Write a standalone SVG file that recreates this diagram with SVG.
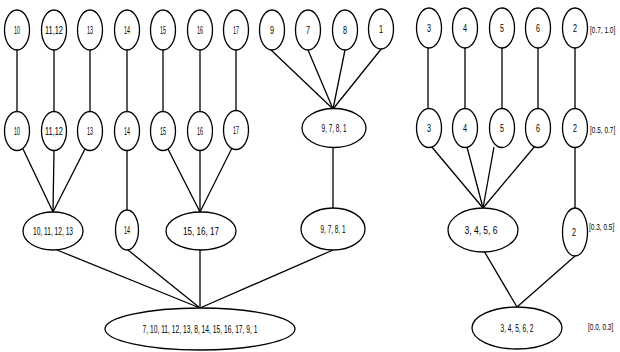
<svg xmlns="http://www.w3.org/2000/svg" width="620" height="352" viewBox="0 0 620 352">
<style>
.n ellipse{fill:#fff;stroke:#000;stroke-width:1.3}
#edges line{stroke:#000;stroke-width:1.3}
text{font-family:"Liberation Sans",Arial,sans-serif;font-size:10px;fill:#000;text-anchor:middle}
.lab{text-anchor:start;font-size:9px}
</style>
<rect width="620" height="352" fill="#fff"/>
<g id="edges">
<line x1="17" y1="50" x2="17" y2="112"/>
<line x1="54" y1="50" x2="54" y2="112"/>
<line x1="90" y1="50" x2="90" y2="112"/>
<line x1="127" y1="50" x2="127" y2="112"/>
<line x1="163" y1="50" x2="163" y2="112"/>
<line x1="200" y1="50" x2="200" y2="112"/>
<line x1="236" y1="50" x2="236" y2="112"/>
<line x1="270" y1="49" x2="333" y2="109"/>
<line x1="308" y1="50" x2="333" y2="109"/>
<line x1="345" y1="50" x2="333" y2="109"/>
<line x1="382" y1="48" x2="333" y2="109"/>
<line x1="428" y1="48" x2="428" y2="109"/>
<line x1="465" y1="48" x2="465" y2="109"/>
<line x1="502" y1="48" x2="502" y2="109"/>
<line x1="538" y1="48" x2="538" y2="109"/>
<line x1="575" y1="48" x2="575" y2="109"/>
<line x1="23" y1="149" x2="53" y2="212"/>
<line x1="54" y1="150" x2="53" y2="212"/>
<line x1="85" y1="149" x2="53" y2="212"/>
<line x1="127" y1="150" x2="127" y2="210"/>
<line x1="168" y1="149" x2="200" y2="212"/>
<line x1="200" y1="150" x2="200" y2="212"/>
<line x1="232" y1="148" x2="200" y2="212"/>
<line x1="333" y1="147" x2="333" y2="209"/>
<line x1="431" y1="146" x2="483" y2="208"/>
<line x1="467" y1="147" x2="483" y2="208"/>
<line x1="494" y1="147" x2="483" y2="208"/>
<line x1="535" y1="146" x2="483" y2="208"/>
<line x1="575" y1="147" x2="575" y2="208"/>
<line x1="57" y1="250" x2="200" y2="308"/>
<line x1="128" y1="250" x2="200" y2="308"/>
<line x1="200" y1="250" x2="200" y2="308"/>
<line x1="333" y1="250" x2="200" y2="308"/>
<line x1="484" y1="251" x2="517" y2="307"/>
<line x1="575" y1="256" x2="517" y2="307"/>
</g>
<g id="t10" class="n"><ellipse cx="17" cy="30" rx="12.5" ry="20"/><text x="17" y="33.5" textLength="6" lengthAdjust="spacingAndGlyphs">10</text></g>
<g id="t1112" class="n"><ellipse cx="54" cy="30" rx="12.5" ry="20"/><text x="54" y="33.5" textLength="18" lengthAdjust="spacingAndGlyphs">11,12</text></g>
<g id="t13" class="n"><ellipse cx="90" cy="30" rx="12.5" ry="20"/><text x="90" y="33.5" textLength="6" lengthAdjust="spacingAndGlyphs">13</text></g>
<g id="t14" class="n"><ellipse cx="127" cy="30" rx="12.5" ry="20"/><text x="127" y="33.5" textLength="6" lengthAdjust="spacingAndGlyphs">14</text></g>
<g id="t15" class="n"><ellipse cx="163" cy="30" rx="12.5" ry="20"/><text x="163" y="33.5" textLength="6" lengthAdjust="spacingAndGlyphs">15</text></g>
<g id="t16" class="n"><ellipse cx="200" cy="30" rx="12.5" ry="20"/><text x="200" y="33.5" textLength="6" lengthAdjust="spacingAndGlyphs">16</text></g>
<g id="t17" class="n"><ellipse cx="236" cy="30" rx="12.5" ry="20"/><text x="236" y="33.5" textLength="6" lengthAdjust="spacingAndGlyphs">17</text></g>
<g id="t9" class="n"><ellipse cx="272" cy="30" rx="12.5" ry="20"/><text x="272" y="33.5" textLength="4" lengthAdjust="spacingAndGlyphs">9</text></g>
<g id="t7" class="n"><ellipse cx="308" cy="30" rx="12.5" ry="20"/><text x="308" y="33.5" textLength="4" lengthAdjust="spacingAndGlyphs">7</text></g>
<g id="t8" class="n"><ellipse cx="345" cy="30" rx="12.5" ry="20"/><text x="345" y="33.5" textLength="4" lengthAdjust="spacingAndGlyphs">8</text></g>
<g id="t1" class="n"><ellipse cx="381" cy="29" rx="12.5" ry="20"/><text x="381" y="32.5" textLength="4" lengthAdjust="spacingAndGlyphs">1</text></g>
<g id="m10" class="n"><ellipse cx="17" cy="131" rx="12.5" ry="19.5"/><text x="17" y="134.5" textLength="6" lengthAdjust="spacingAndGlyphs">10</text></g>
<g id="m1112" class="n"><ellipse cx="54" cy="131" rx="12.5" ry="19.5"/><text x="54" y="134.5" textLength="18" lengthAdjust="spacingAndGlyphs">11,12</text></g>
<g id="m13" class="n"><ellipse cx="90" cy="131" rx="12.5" ry="19.5"/><text x="90" y="134.5" textLength="6" lengthAdjust="spacingAndGlyphs">13</text></g>
<g id="m14" class="n"><ellipse cx="127" cy="131" rx="12.5" ry="19.5"/><text x="127" y="134.5" textLength="6" lengthAdjust="spacingAndGlyphs">14</text></g>
<g id="m15" class="n"><ellipse cx="163" cy="131" rx="12.5" ry="19.5"/><text x="163" y="134.5" textLength="6" lengthAdjust="spacingAndGlyphs">15</text></g>
<g id="m16" class="n"><ellipse cx="200" cy="131" rx="12.5" ry="19.5"/><text x="200" y="134.5" textLength="6" lengthAdjust="spacingAndGlyphs">16</text></g>
<g id="m17" class="n"><ellipse cx="236" cy="130" rx="12.5" ry="19.5"/><text x="236" y="133.5" textLength="6" lengthAdjust="spacingAndGlyphs">17</text></g>
<g id="m9781" class="n"><ellipse cx="334" cy="128" rx="32" ry="19.5"/><text x="334" y="131.5" textLength="25" lengthAdjust="spacingAndGlyphs">9, 7, 8, 1</text></g>
<g id="b10111213" class="n"><ellipse cx="53" cy="231" rx="30" ry="19"/><text x="53" y="234.5" textLength="40" lengthAdjust="spacingAndGlyphs">10, 11, 12, 13</text></g>
<g id="b14" class="n"><ellipse cx="127" cy="230" rx="11.5" ry="20"/><text x="127" y="233.5" textLength="6" lengthAdjust="spacingAndGlyphs">14</text></g>
<g id="b151617" class="n"><ellipse cx="201" cy="231" rx="35" ry="19"/><text x="201" y="234.5" textLength="36" lengthAdjust="spacingAndGlyphs">15, 16, 17</text></g>
<g id="b9781" class="n"><ellipse cx="333" cy="229" rx="32" ry="21"/><text x="333" y="232.5" textLength="25" lengthAdjust="spacingAndGlyphs">9, 7, 8, 1</text></g>
<g id="root" class="n"><ellipse cx="200" cy="329" rx="95" ry="21"/><text x="200" y="332.5" textLength="115" lengthAdjust="spacingAndGlyphs">7, 10, 11, 12, 13, 8, 14, 15, 16, 17, 9, 1</text></g>
<g id="r3" class="n"><ellipse cx="429" cy="28" rx="12.5" ry="20"/><text x="429" y="31.5" textLength="4" lengthAdjust="spacingAndGlyphs">3</text></g>
<g id="r4" class="n"><ellipse cx="465" cy="28" rx="12.5" ry="20"/><text x="465" y="31.5" textLength="4" lengthAdjust="spacingAndGlyphs">4</text></g>
<g id="r5" class="n"><ellipse cx="502" cy="28" rx="12.5" ry="20"/><text x="502" y="31.5" textLength="4" lengthAdjust="spacingAndGlyphs">5</text></g>
<g id="r6" class="n"><ellipse cx="538" cy="28" rx="12.5" ry="20"/><text x="538" y="31.5" textLength="4" lengthAdjust="spacingAndGlyphs">6</text></g>
<g id="r2" class="n"><ellipse cx="575" cy="28" rx="12.5" ry="20"/><text x="575" y="31.5" textLength="4" lengthAdjust="spacingAndGlyphs">2</text></g>
<g id="s3" class="n"><ellipse cx="429" cy="128" rx="12.5" ry="19.5"/><text x="429" y="131.5" textLength="4" lengthAdjust="spacingAndGlyphs">3</text></g>
<g id="s4" class="n"><ellipse cx="465" cy="128" rx="12.5" ry="19.5"/><text x="465" y="131.5" textLength="4" lengthAdjust="spacingAndGlyphs">4</text></g>
<g id="s5" class="n"><ellipse cx="502" cy="128" rx="12.5" ry="19.5"/><text x="502" y="131.5" textLength="4" lengthAdjust="spacingAndGlyphs">5</text></g>
<g id="s6" class="n"><ellipse cx="538" cy="128" rx="12.5" ry="19.5"/><text x="538" y="131.5" textLength="4" lengthAdjust="spacingAndGlyphs">6</text></g>
<g id="s2" class="n"><ellipse cx="575" cy="128" rx="12.5" ry="19.5"/><text x="575" y="131.5" textLength="4" lengthAdjust="spacingAndGlyphs">2</text></g>
<g id="u3456" class="n"><ellipse cx="483" cy="230" rx="35" ry="22"/><text x="481" y="233.5" textLength="33" lengthAdjust="spacingAndGlyphs">3, 4, 5, 6</text></g>
<g id="u2" class="n"><ellipse cx="575" cy="232" rx="12.5" ry="24"/><text x="574" y="235.5" textLength="4" lengthAdjust="spacingAndGlyphs">2</text></g>
<g id="rroot" class="n"><ellipse cx="517" cy="328" rx="45" ry="21"/><text x="517" y="331.5" textLength="33" lengthAdjust="spacingAndGlyphs">3, 4, 5, 6, 2</text></g>
<g id="levels">
<text class="lab" transform="translate(590,33) scale(0.72,1)">[0.7, 1.0]</text>
<text class="lab" transform="translate(590,133) scale(0.72,1)">[0.5, 0.7]</text>
<text class="lab" transform="translate(589,230) scale(0.72,1)">[0.3, 0.5]</text>
<text class="lab" transform="translate(588,330) scale(0.72,1)">[0.0, 0.3]</text>
</g>
</svg>
